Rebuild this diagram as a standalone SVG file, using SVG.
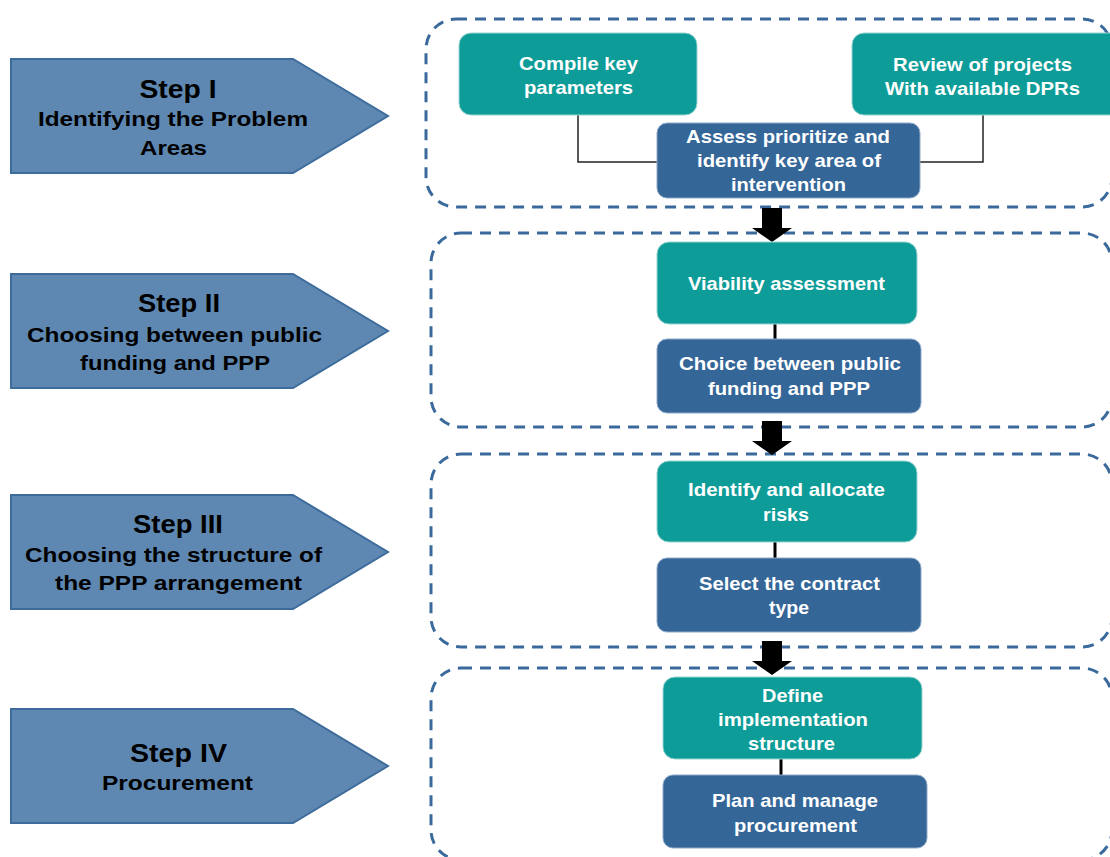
<svg xmlns="http://www.w3.org/2000/svg" width="1110" height="857" viewBox="0 0 1110 857">
<style>
.step{fill:#5E88B1;stroke:#3D6C9C;stroke-width:2}
.cont{fill:none;stroke:#3A6A9B;stroke-width:3;stroke-dasharray:11 8}
.teal{fill:#0E9C98;stroke:#9ad3d0;stroke-width:1}
.blue{fill:#346698;stroke:#8fa9c8;stroke-width:1}
.st{font-family:"Liberation Sans",Arial,sans-serif;font-weight:bold;fill:#000;text-anchor:middle}
.nt{font-family:"Liberation Sans",Arial,sans-serif;font-weight:bold;fill:#fff;text-anchor:middle;font-size:19px}
.ln{fill:none;stroke:#222;stroke-width:1.5}
.tick{fill:none;stroke:#000;stroke-width:3}
.blk{fill:#000}
</style>
<rect x="0" y="0" width="1110" height="857" fill="#fff"/>
<g id="containers">
<rect class="cont" x="426" y="19" width="686" height="188" rx="30"/>
<rect class="cont" x="431" y="233" width="681" height="194" rx="30"/>
<rect class="cont" x="431" y="454" width="681" height="193" rx="30"/>
<rect class="cont" x="431" y="668" width="681" height="192" rx="30"/>
</g>
<g id="step1">
<polygon class="step" points="11,59 293,59 388,116 293,173 11,173"/>
<text class="st" x="178" y="98" font-size="26" textLength="77" lengthAdjust="spacingAndGlyphs">Step I</text>
<text class="st" x="173" y="126" font-size="21" textLength="270" lengthAdjust="spacingAndGlyphs">Identifying the Problem</text>
<text class="st" x="173.5" y="155" font-size="21" textLength="67" lengthAdjust="spacingAndGlyphs">Areas</text>
</g>
<g id="step2">
<polygon class="step" points="11,274 293,274 388,331 293,388 11,388"/>
<text class="st" x="179" y="312" font-size="26" textLength="82" lengthAdjust="spacingAndGlyphs">Step II</text>
<text class="st" x="174.5" y="342" font-size="21" textLength="295" lengthAdjust="spacingAndGlyphs">Choosing between public</text>
<text class="st" x="175" y="370" font-size="21" textLength="190" lengthAdjust="spacingAndGlyphs">funding and PPP</text>
</g>
<g id="step3">
<polygon class="step" points="11,495 293,495 388,552 293,609 11,609"/>
<text class="st" x="178" y="533" font-size="26" textLength="90" lengthAdjust="spacingAndGlyphs">Step III</text>
<text class="st" x="173.5" y="562" font-size="21" textLength="297" lengthAdjust="spacingAndGlyphs">Choosing the structure of</text>
<text class="st" x="178.5" y="590" font-size="21" textLength="247" lengthAdjust="spacingAndGlyphs">the PPP arrangement</text>
</g>
<g id="step4">
<polygon class="step" points="11,709 293,709 388,766 293,823 11,823"/>
<text class="st" x="178.5" y="762" font-size="26" textLength="97" lengthAdjust="spacingAndGlyphs">Step IV</text>
<text class="st" x="177.5" y="790" font-size="21" textLength="151" lengthAdjust="spacingAndGlyphs">Procurement</text>
</g>
<g id="connectors">
<polyline class="ln" points="578,115 578,162 657,162"/>
<polyline class="ln" points="983,115 983,162 920,162"/>
<line class="tick" x1="775" y1="324" x2="775" y2="339"/>
<line class="tick" x1="775" y1="542" x2="775" y2="558"/>
<line class="tick" x1="781" y1="759" x2="781" y2="775"/>
<polygon class="blk" points="762,208 782,208 782,228 792,228 772,242 752,228 762,228"/>
<polygon class="blk" points="762,421 782,421 782,441 792,441 772,455 752,441 762,441"/>
<polygon class="blk" points="762,641 782,641 782,661 792,661 772,675 752,661 762,661"/>
</g>
<g id="n-compile">
<rect class="teal" x="459" y="33" width="238" height="82" rx="12"/>
<text class="nt" x="578.5" y="70" textLength="119" lengthAdjust="spacingAndGlyphs">Compile key</text>
<text class="nt" x="578.5" y="94" textLength="109" lengthAdjust="spacingAndGlyphs">parameters</text>
</g>
<g id="n-review">
<rect class="teal" x="852" y="33" width="272" height="82" rx="12"/>
<text class="nt" x="982.5" y="71" textLength="179" lengthAdjust="spacingAndGlyphs">Review of projects</text>
<text class="nt" x="982.5" y="95" textLength="195" lengthAdjust="spacingAndGlyphs">With available DPRs</text>
</g>
<g id="n-assess">
<rect class="blue" x="657" y="123" width="263" height="75" rx="10"/>
<text class="nt" x="788" y="143" textLength="204" lengthAdjust="spacingAndGlyphs">Assess prioritize and</text>
<text class="nt" x="789" y="167" textLength="184" lengthAdjust="spacingAndGlyphs">identify key area of</text>
<text class="nt" x="788.5" y="191" textLength="115" lengthAdjust="spacingAndGlyphs">intervention</text>
</g>
<g id="n-viability">
<rect class="teal" x="657" y="242" width="260" height="82" rx="12"/>
<text class="nt" x="786.5" y="290" textLength="197" lengthAdjust="spacingAndGlyphs">Viability assessment</text>
</g>
<g id="n-choice">
<rect class="blue" x="657" y="339" width="264" height="74" rx="10"/>
<text class="nt" x="790" y="370" textLength="222" lengthAdjust="spacingAndGlyphs">Choice between public</text>
<text class="nt" x="789" y="395" textLength="162" lengthAdjust="spacingAndGlyphs">funding and PPP</text>
</g>
<g id="n-risks">
<rect class="teal" x="657" y="461" width="260" height="81" rx="12"/>
<text class="nt" x="786.5" y="496" textLength="197" lengthAdjust="spacingAndGlyphs">Identify and allocate</text>
<text class="nt" x="786" y="521" textLength="46" lengthAdjust="spacingAndGlyphs">risks</text>
</g>
<g id="n-contract">
<rect class="blue" x="657" y="558" width="264" height="74" rx="10"/>
<text class="nt" x="789.5" y="590" textLength="181" lengthAdjust="spacingAndGlyphs">Select the contract</text>
<text class="nt" x="789" y="614" textLength="40" lengthAdjust="spacingAndGlyphs">type</text>
</g>
<g id="n-define">
<rect class="teal" x="663" y="677" width="259" height="82" rx="12"/>
<text class="nt" x="792.5" y="702" textLength="61" lengthAdjust="spacingAndGlyphs">Define</text>
<text class="nt" x="793" y="726" textLength="150" lengthAdjust="spacingAndGlyphs">implementation</text>
<text class="nt" x="791.5" y="750" textLength="87" lengthAdjust="spacingAndGlyphs">structure</text>
</g>
<g id="n-plan">
<rect class="blue" x="663" y="775" width="264" height="73" rx="10"/>
<text class="nt" x="795" y="807" textLength="166" lengthAdjust="spacingAndGlyphs">Plan and manage</text>
<text class="nt" x="795.5" y="832" textLength="123" lengthAdjust="spacingAndGlyphs">procurement</text>
</g>
</svg>
